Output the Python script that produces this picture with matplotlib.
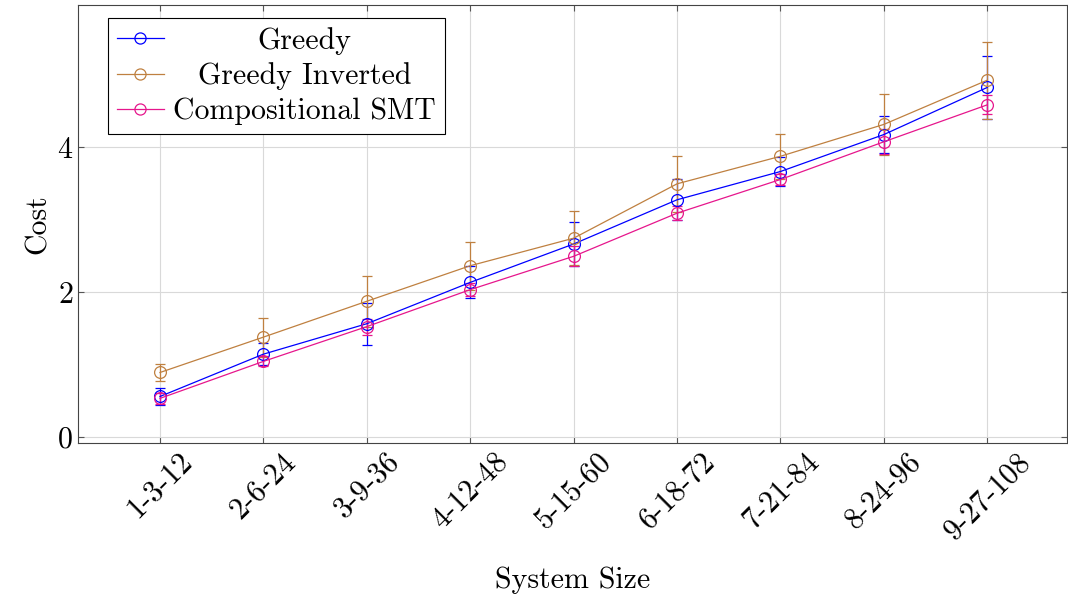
import matplotlib.pyplot as plt
from matplotlib.lines import Line2D
import numpy as np

plt.rcParams['font.family'] = ['cmr10', 'DejaVu Serif']
plt.rcParams['axes.formatter.use_mathtext'] = True

sizes = ["1-3-12", "2-6-24", "3-9-36", "4-12-48", "5-15-60",
         "6-18-72", "7-21-84", "8-24-96", "9-27-108"]

greedy = [0.556, 1.14, 1.56, 2.13, 2.66, 3.27, 3.66, 4.17, 4.82]
greedy_err = [0.12, 0.15, 0.29, 0.22, 0.31, 0.28, 0.20, 0.25, 0.43]

greedy_inv = [0.887, 1.375, 1.87, 2.36, 2.74, 3.49, 3.87, 4.31, 4.92]
greedy_inv_err = [0.12, 0.27, 0.35, 0.33, 0.37, 0.39, 0.31, 0.42, 0.53]

smt = [0.53, 1.04, 1.52, 2.03, 2.49, 3.085, 3.55, 4.07, 4.58]
smt_err = [0.08, 0.07, 0.11, 0.09, 0.14, 0.10, 0.08, 0.17, 0.13]

x = np.arange(len(sizes))
fs = 21.5

fig = plt.figure(figsize=(10.68, 6), dpi=100)
ax = fig.add_axes([0.073, 0.262, 0.926, 0.730])

series = [
    (greedy, greedy_err, "#0000ff", "Greedy"),
    (greedy_inv, greedy_inv_err, "#bf8040", "Greedy Inverted"),
    (smt, smt_err, "#e6168c", "Compositional SMT"),
]
handles = []
for vals, err, col, lab in series:
    ax.errorbar(x, vals, yerr=err, color=col, marker='o', markersize=8.5,
                markerfacecolor='none', markeredgewidth=0.9, linewidth=0.9,
                elinewidth=0.9, capsize=3.6, capthick=0.9)
    handles.append(Line2D([], [], color=col, marker='o', markersize=8,
                          markerfacecolor='none', markeredgewidth=0.9,
                          linewidth=0.9, label=lab))

ax.set_xlim(-0.793, 8.77)
ax.set_ylim(-0.083, 5.96)
ax.set_xticks(x)
ax.set_xticklabels(sizes, rotation=45, fontsize=fs)
ax.set_yticks([0, 2, 4])
ax.tick_params(axis='y', labelsize=fs)
ax.tick_params(direction='in', top=True, right=True, length=4, color='#555555')
ax.grid(True, color='#d9d9d9', linewidth=0.8)
ax.set_axisbelow(True)
for s in ax.spines.values():
    s.set_color('#444444')
    s.set_linewidth(0.8)

ax.set_xlabel("System Size", fontsize=fs, labelpad=16)
ax.set_ylabel("Cost", fontsize=fs, labelpad=4)

leg = ax.legend(handles=handles, loc='upper left', fontsize=fs, fancybox=False,
                framealpha=1, edgecolor='black',
                bbox_to_anchor=(0.03, 0.97), borderaxespad=0,
                handlelength=1.6, labelspacing=0.25, borderpad=0.3,
                handletextpad=0.3)
leg.get_frame().set_linewidth(0.8)

# centre the legend entries like pgfplots does
fig.canvas.draw()
widths = [t.get_window_extent().width for t in leg.get_texts()]
for t, w in zip(leg.get_texts(), widths):
    t.set_x((max(widths) - w) / 2)

fig.savefig("out.png", dpi=100)
